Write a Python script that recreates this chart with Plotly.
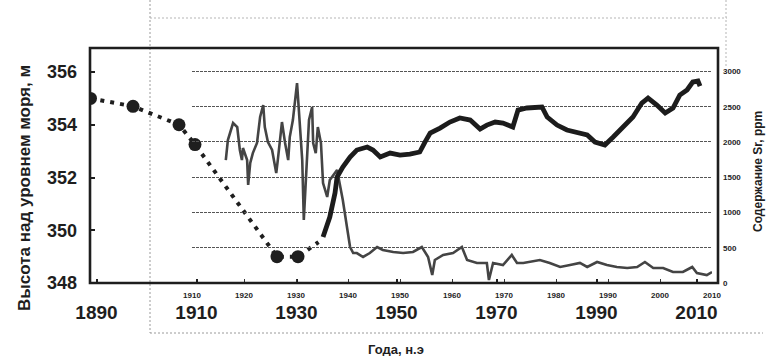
import plotly.graph_objects as go

# ---- sea level (left axis, main time axis) ----
sea_years = [1888.8, 1897.3, 1906.5, 1909.7, 1926.1, 1930.3, 1934.4]
sea_level = [355.0, 354.7, 354.0, 353.25, 349.0, 349.0, 349.55]
sea_marker = [13, 13, 13, 13, 13, 13, 0]

# ---- Sr content (right axis, inset time axis) ----
sr_low_years = [1916.5, 1916.9, 1917.9, 1918.7, 1919.2, 1919.6, 1919.8, 1920.6, 1920.8, 1921.2,
                1921.7, 1922.5, 1923.1, 1923.7, 1924.0, 1924.6, 1925.4, 1926.2, 1926.5, 1927.3,
                1927.9, 1928.5, 1928.8, 1929.4, 1930.2, 1930.6, 1931.2, 1931.5, 1932.1, 1932.5,
                1933.1, 1933.3, 1933.8, 1934.2, 1934.8, 1935.2, 1936.0, 1936.5, 1937.9, 1939.0,
                1939.8, 1940.4, 1941.0, 1941.7, 1942.9, 1944.2, 1945.6, 1946.7, 1948.7, 1950.6,
                1952.5, 1954.2, 1955.4, 1956.2, 1956.7, 1958.3, 1960.2, 1961.9, 1962.9, 1964.8,
                1966.7, 1967.1, 1967.9, 1969.8, 1971.5, 1972.5, 1973.7, 1975.0, 1976.9, 1978.8,
                1980.8, 1982.7, 1984.6, 1986.0, 1987.9, 1989.8, 1991.7, 1993.7, 1995.6, 1997.1,
                1998.7, 2000.6, 2002.5, 2004.4, 2006.2, 2007.1, 2009.0, 2010.0]
sr_low_ppm = [1744, 2028, 2269, 2212, 1886, 1744, 1914, 1744, 1390, 1702,
              1843, 1985, 2354, 2524, 2212, 1999, 1886, 1560, 1744, 2283,
              1985, 1744, 2070, 2311, 2836, 2453, 1744, 893, 1744, 2311,
              2496, 1985, 1843, 2212, 1985, 1418, 1220, 1460, 1602, 1177,
              794, 510, 425, 425, 369, 425, 510, 468, 440, 425,
              440, 510, 369, 113, 326, 397, 425, 510, 326, 284,
              284, 43, 284, 255, 397, 284, 284, 298, 326, 284,
              227, 255, 284, 227, 298, 255, 227, 213, 227, 298,
              213, 213, 156, 156, 227, 142, 113, 156]

sr_high_years = [1935.2, 1936.5, 1937.5, 1937.9, 1939.0, 1940.4, 1941.7, 1943.7, 1944.8, 1946.2,
                 1948.1, 1950.0, 1951.9, 1953.8, 1954.8, 1955.8, 1957.7, 1959.6, 1961.5, 1963.5,
                 1965.4, 1966.7, 1968.3, 1969.8, 1971.7, 1972.7, 1974.4, 1977.3, 1978.3, 1980.2,
                 1982.1, 1984.0, 1986.0, 1987.5, 1989.4, 1991.0, 1992.9, 1994.8, 1996.5, 1997.7,
                 1999.4, 2001.0, 2002.5, 2003.8, 2005.2, 2006.3, 2007.3, 2007.7]
sr_high_ppm = [652, 936, 1276, 1503, 1645, 1787, 1886, 1928, 1886, 1787,
               1843, 1815, 1829, 1858, 1999, 2127, 2198, 2283, 2340, 2311,
               2184, 2240, 2283, 2269, 2212, 2453, 2482, 2496, 2354, 2240,
               2170, 2127, 2099, 1999, 1957, 2070, 2212, 2354, 2552, 2623,
               2524, 2411, 2482, 2666, 2737, 2850, 2864, 2793]

# ---- tick labels ----
big_years = [1890, 1910, 1930, 1950, 1970, 1990, 2010]
small_years = [1910, 1920, 1930, 1940, 1950, 1960, 1970, 1980, 1990, 2000, 2010]
level_ticks = [348, 350, 352, 354, 356]
sr_ticks = [0, 500, 1000, 1500, 2000, 2500, 3000]

NARROW = "Liberation Sans Narrow, Arial Narrow, Liberation Sans, Arial, sans-serif"
SANS = "Liberation Sans, Arial, DejaVu Sans, sans-serif"
INK = "#1e1e1e"

W, H = 766, 356
L, R, T, B = 90, 718, 48, 283


def px(x):
    return (x - L) / (R - L)


def py(y):
    return (B - y) / (B - T)


fig = go.Figure()

fig.add_trace(go.Scatter(
    x=sea_years, y=sea_level, mode="lines+markers", xaxis="x", yaxis="y",
    line=dict(color=INK, width=4, dash="4px,6px"),
    marker=dict(size=sea_marker, color=INK, opacity=1, line=dict(width=0)),
    showlegend=False, hoverinfo="skip"))

fig.add_trace(go.Scatter(
    x=sr_low_years, y=sr_low_ppm, mode="lines", xaxis="x2", yaxis="y2",
    line=dict(color="#444444", width=2.6), showlegend=False, hoverinfo="skip"))

fig.add_trace(go.Scatter(
    x=sr_high_years, y=sr_high_ppm, mode="lines", xaxis="x2", yaxis="y2",
    line=dict(color="#1c1c1c", width=4.8), showlegend=False, hoverinfo="skip"))

dash_col = "#9a9a9a"
shapes = [
    # faint scan frame of the inset
    dict(type="line", xref="paper", yref="paper", x0=px(150), x1=px(150), y0=py(0), y1=py(333),
         line=dict(color=dash_col, width=1, dash="2px,2px"), layer="below"),
    dict(type="line", xref="paper", yref="paper", x0=px(150), x1=px(763), y0=py(333), y1=py(333),
         line=dict(color=dash_col, width=1, dash="2px,2px"), layer="below"),
    dict(type="line", xref="paper", yref="paper", x0=px(150), x1=px(727), y0=py(18), y1=py(18),
         line=dict(color="#b5b5b5", width=1, dash="2px,2px"), layer="below"),
    dict(type="line", xref="paper", yref="paper", x0=px(726), x1=px(726), y0=py(0), y1=py(66),
         line=dict(color="#b5b5b5", width=1, dash="2px,2px"), layer="below"),
    # main frame
    dict(type="rect", xref="paper", yref="paper", x0=0, x1=1, y0=0, y1=1,
         line=dict(color=INK, width=2.6), layer="above"),
]

fig.update_layout(
    width=W, height=H,
    margin=dict(l=L, r=W - R, t=T, b=H - B, autoexpand=False),
    paper_bgcolor="white", plot_bgcolor="rgba(0,0,0,0)",
    shapes=shapes,
    xaxis=dict(range=[1888.7, 2014.3], tickvals=big_years, ticktext=[str(v) for v in big_years],
               ticks="inside", ticklen=4, tickcolor=INK, tickwidth=1.5,
               showgrid=False, zeroline=False, showline=False,
               tickfont=dict(family=NARROW, size=19, color=INK, weight="bold"),
               ticklabelstandoff=16),
    yaxis=dict(range=[348, 356.91], tickvals=level_ticks, ticks="inside", ticklen=5,
               tickcolor=INK, tickwidth=1.5, showgrid=False, zeroline=False, showline=False,
               tickfont=dict(family=NARROW, size=18, color=INK, weight="bold"),
               ticklabelstandoff=12),
    xaxis2=dict(domain=[px(192), px(712)], range=[1910, 2010], anchor="y2",
                tickvals=small_years, ticks="inside", ticklen=4, tickcolor="#333",
                showgrid=False, zeroline=False, showline=False,
                tickfont=dict(family=NARROW, size=8, color=INK, weight="bold"),
                ticklabelstandoff=6),
    yaxis2=dict(range=[0, 3333], anchor="free", position=1.0, side="right",
                tickvals=sr_ticks, ticks="", showgrid=True, gridcolor="#555",
                gridwidth=1.2, griddash="3px,1px", zeroline=False, showline=False,
                tickfont=dict(family=NARROW, size=8, color=INK, weight="bold"),
                ticklabelstandoff=4),
    annotations=[
        dict(text="Высота над уровнем моря, м", xref="paper", yref="paper",
             x=px(24), y=py(188), xanchor="center", yanchor="middle",
             textangle=-90, showarrow=False,
             font=dict(family=SANS, size=17, color=INK, weight="bold")),
        dict(text="Года, н.э", xref="paper", yref="paper", x=px(396), y=py(349),
             xanchor="center", yanchor="middle", showarrow=False,
             font=dict(family=SANS, size=13, color=INK, weight="bold")),
        dict(text="Содержание Sr, ppm", xref="paper", yref="paper", x=px(758), y=py(172),
             xanchor="center", yanchor="middle", textangle=-90, showarrow=False,
             font=dict(family=SANS, size=12, color=INK, weight="bold")),
    ],
)

fig.write_html(
    "out.html",
    config={"displayModeBar": False},
    post_script="document.body.style.margin='0';document.body.style.overflow='hidden';",
)
